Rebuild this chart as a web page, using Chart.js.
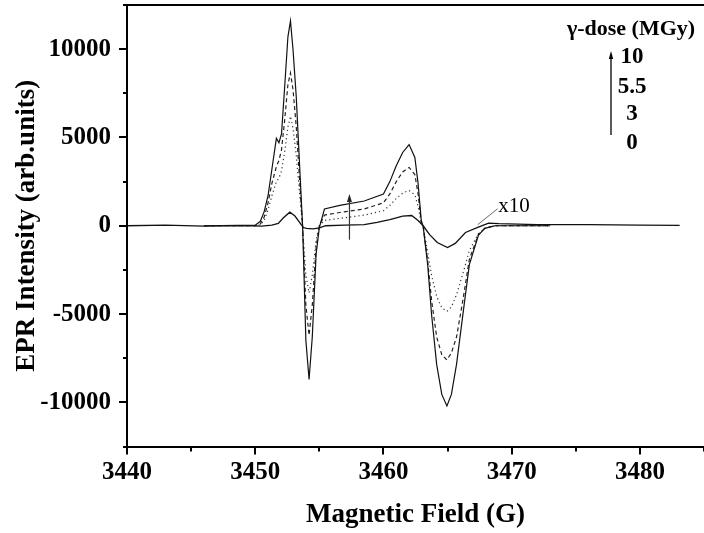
<!DOCTYPE html>
<html>
<head>
<meta charset="utf-8">
<script src="https://cdn.jsdelivr.net/npm/chart.js@4.4.1/dist/chart.umd.min.js"></script>
<style>
  html, body { margin: 0; padding: 0; background: #fff; }
  canvas { display: block; }
</style>
</head>
<body>
<canvas id="epr" width="704" height="533"></canvas>
<script>
// field (G) for the irradiated spectra
const fieldIrr = [3446, 3450.0, 3450.4, 3450.7, 3451.0, 3451.3, 3451.65, 3451.85, 3452.05, 3452.3,
    3452.55, 3452.75, 3452.95, 3453.2, 3453.45, 3453.7, 3453.95, 3454.2, 3454.45, 3454.75,
    3455.0, 3455.4, 3456.6, 3458.5, 3460.0, 3460.5, 3461.0, 3461.5, 3462.0, 3462.45,
    3462.7, 3462.95, 3463.1, 3463.45, 3463.75, 3464.15, 3464.55, 3464.95, 3465.3, 3465.7,
    3466.2, 3466.7, 3467.4, 3467.9, 3468.7, 3473];
const dose10 = [0, 30, 250, 800, 1700, 3200, 4950, 4700, 5200, 7900,
    10700, 11600, 9950, 7300, 3600, -100, -6500, -8700, -6300, -1600,
    -100, 950, 1150, 1400, 1800, 2500, 3400, 4150, 4600, 3870,
    2400, 300, -50, -2200, -5000, -7850, -9550, -10200, -9550, -7850,
    -5000, -2200, -550, -150, 0, 0];
const dose55 = [0, 0, 100, 500, 1300, 2400, 3350, 3700, 4300, 6000,
    8000, 8650, 7700, 5600, 2700, -100, -4500, -6200, -4500, -1200,
    0, 600, 750, 950, 1300, 1800, 2500, 3050, 3300, 2900,
    1800, 200, -50, -2000, -4200, -6300, -7300, -7600, -7200, -6300,
    -4200, -1900, -500, -150, 0, 0];
const dose3 = [0, 0, 50, 300, 900, 1700, 2500, 2700, 3100, 4200,
    5600, 6200, 5500, 4000, 1900, -100, -2800, -3800, -2800, -800,
    0, 300, 420, 600, 850, 1150, 1550, 1850, 2000, 1750,
    1100, 150, -50, -1500, -2800, -4000, -4650, -4850, -4600, -3900,
    -2700, -1400, -450, -150, 0, 0];

// unirradiated sample, shown x10
const field0 = [3440, 3443, 3446, 3449, 3450.5, 3451.3, 3451.8, 3452.2, 3452.7, 3453.1,
    3453.5, 3453.75, 3454.0, 3454.5, 3455.0, 3455.5, 3457, 3458.5, 3459.5, 3460.5,
    3461.5, 3462.2, 3462.7, 3463.1, 3463.6, 3464.2, 3465.0, 3465.6, 3466.4, 3467.4,
    3468.2, 3469, 3472, 3476, 3480, 3483.1];
const dose0 = [0, 30, -20, 10, -20, 40, 130, 450, 770, 550,
    150, -100, -150, -180, -120, 0, 30, 60, 190, 350,
    550, 580, 300, 0, -500, -950, -1230, -1000, -380, -80,
    150, 120, 60, 60, 30, 20];

const xTickLabels = [3440, 3450, 3460, 3470, 3480];
const yTickLabels = [-10000, -5000, 0, 5000, 10000];
const doseLabels = ['10', '5.5', '3', '0'];

const serif = "'Liberation Serif', 'Times New Roman', serif";

function pts(xs, ys) {
    return xs.map((x, i) => ({ x: x, y: ys[i] }));
}

const decor = {
    id: 'decor',
    afterDraw(chart) {
        const { ctx, chartArea: a, scales: { x, y } } = chart;
        ctx.save();
        ctx.strokeStyle = '#000';
        ctx.fillStyle = '#000';

        // top frame line
        ctx.lineWidth = 2;
        ctx.beginPath();
        ctx.moveTo(a.left - 1, a.top);
        ctx.lineTo(a.right, a.top);
        ctx.stroke();

        // major / minor ticks
        x.ticks.forEach(t => {
            const px = Math.round(x.getPixelForValue(t.value));
            const len = xTickLabels.includes(t.value) ? 8 : 5;
            ctx.beginPath();
            ctx.moveTo(px, a.bottom);
            ctx.lineTo(px, a.bottom + len);
            ctx.stroke();
        });
        y.ticks.forEach(t => {
            const py = Math.round(y.getPixelForValue(t.value));
            const len = yTickLabels.includes(t.value) ? 8 : 4;
            ctx.beginPath();
            ctx.moveTo(a.left, py);
            ctx.lineTo(a.left - len, py);
            ctx.stroke();
        });

        // dose arrow in the middle of the spectrum
        ctx.lineWidth = 1.2;
        ctx.strokeStyle = '#333';
        ctx.fillStyle = '#222';
        const ax = x.getPixelForValue(3457.35);
        const ay0 = y.getPixelForValue(-790);
        const ay1 = y.getPixelForValue(1800);
        ctx.beginPath();
        ctx.moveTo(ax, ay0);
        ctx.lineTo(ax, ay1 + 4);
        ctx.stroke();
        ctx.beginPath();
        ctx.moveTo(ax, ay1);
        ctx.lineTo(ax - 2.5, ay1 + 8);
        ctx.lineTo(ax + 2.5, ay1 + 8);
        ctx.closePath();
        ctx.fill();

        // x10 marker
        ctx.lineWidth = 0.8;
        ctx.strokeStyle = '#444';
        ctx.beginPath();
        ctx.moveTo(x.getPixelForValue(3467.35), y.getPixelForValue(60));
        ctx.lineTo(x.getPixelForValue(3468.9), y.getPixelForValue(960));
        ctx.stroke();
        ctx.fillStyle = '#000';
        ctx.font = '21px ' + serif;
        ctx.textAlign = 'left';
        ctx.textBaseline = 'alphabetic';
        ctx.fillText('x10', x.getPixelForValue(3468.95), y.getPixelForValue(770));

        // dose legend
        ctx.font = 'bold 22px ' + serif;
        ctx.textAlign = 'center';
        ctx.fillText('\u03b3-dose (MGy)', a.right - 73, a.top + 30);
        ctx.font = 'bold 23px ' + serif;
        const base = [58, 88, 115, 144];
        doseLabels.forEach((s, i) => {
            ctx.fillText(s, a.right - 72, a.top + base[i]);
        });
        const lx = a.right - 93;
        ctx.lineWidth = 1.3;
        ctx.strokeStyle = '#000';
        ctx.beginPath();
        ctx.moveTo(lx, a.top + 130);
        ctx.lineTo(lx, a.top + 52);
        ctx.stroke();
        ctx.beginPath();
        ctx.moveTo(lx, a.top + 46);
        ctx.lineTo(lx - 2.2, a.top + 54);
        ctx.lineTo(lx + 2.2, a.top + 54);
        ctx.closePath();
        ctx.fill();
        ctx.restore();
    }
};

const ctx = document.getElementById('epr').getContext('2d');
const chart = new Chart(ctx, {
    type: 'line',
    data: {
        datasets: [
            {
                label: '10 MGy',
                data: pts(fieldIrr, dose10),
                borderColor: '#111',
                borderWidth: 1.2
            },
            {
                label: '5.5 MGy',
                data: pts(fieldIrr, dose55),
                borderColor: '#222',
                borderWidth: 1.2,
                borderDash: [4, 3]
            },
            {
                label: '3 MGy',
                data: pts(fieldIrr, dose3),
                borderColor: '#333',
                borderWidth: 1.2,
                borderDash: [1.2, 3]
            },
            {
                label: '0 MGy (x10)',
                data: pts(field0, dose0),
                borderColor: '#111',
                borderWidth: 1.3
            }
        ]
    },
    options: {
        responsive: false,
        devicePixelRatio: 1,
        animation: false,
        layout: { padding: { top: 5, right: 0, left: 0, bottom: 0 } },
        elements: { point: { radius: 0 }, line: { tension: 0 } },
        plugins: {
            legend: { display: false },
            tooltip: { enabled: false }
        },
        scales: {
            x: {
                type: 'linear',
                min: 3440,
                max: 3485,
                afterFit: s => {
                    s.height = 86.5;
                    s.paddingLeft = 0;
                    s.paddingRight = 0;
                },
                border: { display: true, color: '#000', width: 2 },
                grid: { drawOnChartArea: false, tickLength: 8, tickColor: 'rgba(0,0,0,0)' },
                ticks: {
                    stepSize: 5,
                    autoSkip: false,
                    maxRotation: 0,
                    padding: 3,
                    color: '#000',
                    font: { family: serif, size: 25, weight: 'bold' },
                    callback: v => xTickLabels.includes(v) ? String(v) : ''
                },
                title: {
                    display: true,
                    text: 'Magnetic Field (G)',
                    color: '#000',
                    font: { family: serif, size: 27, weight: 'bold' },
                    padding: { top: 0, bottom: 2 }
                }
            },
            y: {
                min: -12500,
                max: 12500,
                afterFit: s => {
                    s.width = 127;
                    s.paddingTop = 0;
                    s.paddingBottom = 0;
                },
                border: { display: true, color: '#000', width: 2 },
                grid: { drawOnChartArea: false, tickLength: 8, tickColor: 'rgba(0,0,0,0)' },
                ticks: {
                    stepSize: 2500,
                    autoSkip: false,
                    padding: 8,
                    color: '#000',
                    font: { family: serif, size: 25, weight: 'bold' },
                    callback: v => yTickLabels.includes(v) ? String(v) : ''
                },
                title: {
                    display: true,
                    text: 'EPR Intensity (arb.units)',
                    color: '#000',
                    font: { family: serif, size: 27, weight: 'bold' },
                    padding: { top: 11, bottom: 0 }
                }
            }
        }
    },
    plugins: [decor]
});
</script>
</body>
</html>
